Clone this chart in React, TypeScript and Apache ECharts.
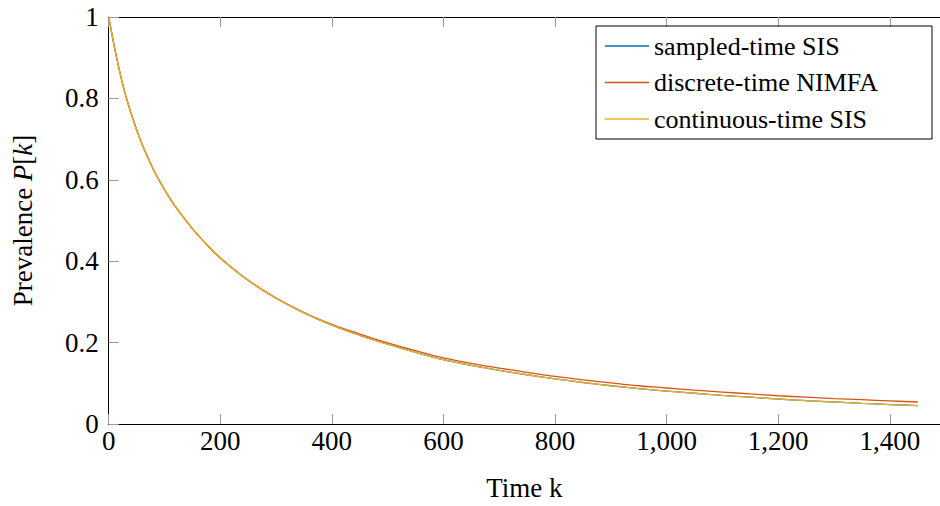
import React, { useEffect, useRef } from "react";
import * as echarts from "echarts";

const timeSteps = [0, 25, 50, 75, 100, 125, 150, 175, 200, 250, 300, 350, 400, 450, 500, 550, 600, 650, 700, 750, 800, 850, 900, 950, 1000, 1050, 1100, 1150, 1200, 1250, 1300, 1350, 1400, 1450];
const sampledSIS = [1.0, 0.835, 0.723, 0.64, 0.576, 0.524, 0.48, 0.442, 0.408, 0.353, 0.309, 0.273, 0.243, 0.218, 0.196, 0.176, 0.158, 0.144, 0.132, 0.121, 0.111, 0.102, 0.094, 0.087, 0.081, 0.0755, 0.0705, 0.0658, 0.0614, 0.0573, 0.054, 0.0507, 0.0478, 0.045];
const discreteNIMFA = [1.0, 0.835, 0.723, 0.64, 0.576, 0.524, 0.48, 0.442, 0.408, 0.353, 0.3095, 0.274, 0.245, 0.221, 0.1995, 0.18, 0.1625, 0.149, 0.1375, 0.127, 0.117, 0.1085, 0.101, 0.094, 0.0885, 0.083, 0.0785, 0.0738, 0.0694, 0.0658, 0.0625, 0.0597, 0.0568, 0.054];
const continuousSIS = [1.0, 0.835, 0.723, 0.64, 0.576, 0.524, 0.48, 0.442, 0.408, 0.353, 0.309, 0.273, 0.243, 0.218, 0.196, 0.176, 0.158, 0.144, 0.132, 0.121, 0.111, 0.102, 0.094, 0.087, 0.081, 0.0755, 0.0705, 0.0658, 0.0614, 0.0573, 0.054, 0.0507, 0.0478, 0.045];

const seriesNames = ["sampled-time SIS", "discrete-time NIMFA", "continuous-time SIS"];
const seriesColors = ["#0072BD", "#D95319", "#EDB120"];

const FONT = "Liberation Serif";

function pairs(ys: number[]) {
  return timeSteps.map((k, i) => [k, ys[i]]);
}

export default function App() {
  const ref = useRef<HTMLDivElement>(null);
  useEffect(() => {
    document.body.style.margin = "0";
    const chart = echarts.init(ref.current!, null, { renderer: "svg" });
    const tickStyle = { color: "#9a9a9a", width: 1 };
    const lineStyle = { color: "#000", width: 1 };
    const fmt = (v: number) => {
      if (v % 200 !== 0) return "";
      return v.toLocaleString("en-US");
    };
    const datasets = [sampledSIS, discreteNIMFA, continuousSIS];
    const plain = { fontFamily: FONT, fontSize: 27, color: "#000" };
    chart.setOption({
      animation: false,
      backgroundColor: "#fff",
      textStyle: { fontFamily: FONT },
      grid: { left: 108.7, top: 17, width: 834.4, height: 410 },
      legend: {
        orient: "vertical",
        right: 8,
        top: 26,
        borderColor: "#000",
        borderWidth: 1,
        borderRadius: 0,
        padding: [5, 10, 5, 9],
        itemGap: 6.5,
        itemWidth: 44,
        itemHeight: 1.5,
        icon: "rect",
        formatter: "{a|{name}}",
        textStyle: {
          fontFamily: FONT,
          fontSize: 26,
          color: "#000",
          lineHeight: 30,
          width: 268,
          rich: { a: { fontFamily: FONT, fontSize: 26, color: "#000", lineHeight: 30 } },
        },
        data: seriesNames,
      },
      xAxis: [
        {
          type: "value",
          position: "bottom",
          min: 0,
          max: 1490,
          interval: 200,
          axisLine: { show: true, lineStyle },
          axisTick: { show: true, inside: true, length: 10, lineStyle: tickStyle },
          axisLabel: { show: true, formatter: fmt, fontFamily: FONT, fontSize: 27, color: "#000", margin: 3, showMaxLabel: false },
          splitLine: { show: false },
          name: "Time k",
          nameLocation: "middle",
          nameGap: 50,
          nameTextStyle: { fontFamily: FONT, fontSize: 27, color: "#000" },
        },
        {
          type: "value",
          position: "top",
          min: 0,
          max: 1490,
          interval: 200,
          axisLine: { show: true, lineStyle },
          axisTick: { show: true, inside: true, length: 10, lineStyle: tickStyle },
          axisLabel: { show: false },
          splitLine: { show: false },
        },
      ],
      yAxis: [
        {
          type: "value",
          min: 0,
          max: 1,
          interval: 0.2,
          axisLine: { show: true, lineStyle },
          axisTick: { show: true, inside: true, length: 10, lineStyle: tickStyle },
          axisLabel: { fontFamily: FONT, fontSize: 27, color: "#000", margin: 10 },
          splitLine: { show: false },
          name: "{r|Prevalence }{i|P}{r|[}{i|k}{r|]}",
          nameLocation: "middle",
          nameGap: 72,
          nameTextStyle: {
            fontFamily: FONT,
            fontSize: 27,
            color: "#000",
            rich: {
              r: plain,
              i: { ...plain, fontStyle: "italic" },
            },
          },
        },
      ],
      series: datasets.map((d, i) => ({
        name: seriesNames[i],
        type: "line",
        data: pairs(d),
        symbol: "none",
        smooth: 0.4,
        color: seriesColors[i],
        lineStyle: { color: seriesColors[i], width: 1.3 },
      })),
    });
    return () => chart.dispose();
  }, []);
  return <div ref={ref} style={{ width: 940, height: 506 }} />;
}
